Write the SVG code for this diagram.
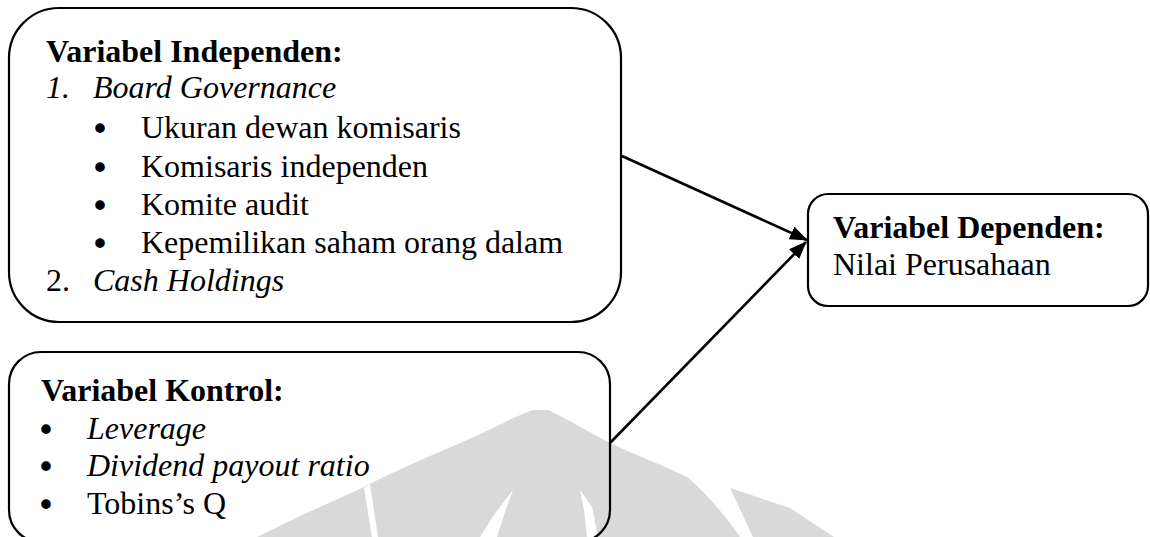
<svg xmlns="http://www.w3.org/2000/svg" width="1150" height="537" viewBox="0 0 1150 537">
<style>
.box{fill:none;stroke:#000;stroke-width:2.2}
.t{font-family:"Liberation Serif","Times New Roman",serif;font-size:32px;fill:#000}
.b{font-weight:bold}
.i{font-style:italic}
.bu{font-family:"DejaVu Sans",sans-serif;font-size:33px;fill:#000;text-anchor:middle}
.wm{fill:#d9d9d9}
.wh{fill:#fff}
.conn{stroke:#000;stroke-width:2.6;fill:none}
</style>
<defs>
<marker id="ah" markerUnits="userSpaceOnUse" markerWidth="18" markerHeight="14" refX="17" refY="7" orient="auto">
<path d="M0,0 L18,7 L0,14 Z" fill="#000"/>
</marker>
</defs>
<rect width="1150" height="537" fill="#fff"/>
<g id="watermark">
<path class="wm" d="M257,537 L300,516 L362,488 C400,468 440,452 467,440 C495,428 515,416 533,410 L548,410 C570,420 590,433 610,443 C640,457 665,466 687,477 C705,492 725,515 740,537 Z"/>
<polygon class="wm" points="730,488 790,508 834,537 753,537"/>
<polygon class="wh" points="364,488 372,537 378,537 370,484"/>
<polygon class="wh" points="513,490 505,512 497,537 480,537 496,512"/>
<polygon class="wh" points="580,490 592,507 598,537 587,537 584,510"/>
</g>
<g id="connectors">
<line class="conn" x1="622" y1="156" x2="807" y2="240" marker-end="url(#ah)"/>
<line class="conn" x1="610" y1="443" x2="806" y2="242" marker-end="url(#ah)"/>
</g>
<g id="independen">
<rect class="box" x="9" y="8" width="612" height="314" rx="50" ry="50"/>
<text class="t b" x="46" y="62">Variabel Independen:</text>
<text class="t i" x="46" y="98">1.</text>
<text class="t i" x="93" y="98">Board Governance</text>
<text class="bu" x="100" y="141">•</text>
<text class="t" x="141" y="138">Ukuran dewan komisaris</text>
<text class="bu" x="100" y="180">•</text>
<text class="t" x="141" y="177">Komisaris independen</text>
<text class="bu" x="100" y="218">•</text>
<text class="t" x="141" y="215">Komite audit</text>
<text class="bu" x="100" y="256">•</text>
<text class="t" x="141" y="253">Kepemilikan saham orang dalam</text>
<text class="t" x="46" y="291">2.</text>
<text class="t i" x="93" y="291">Cash Holdings</text>
</g>
<g id="kontrol">
<rect class="box" x="9" y="352" width="601" height="190" rx="32" ry="32"/>
<text class="t b" x="41" y="401">Variabel Kontrol:</text>
<text class="bu" x="46" y="442">•</text>
<text class="t i" x="87" y="439">Leverage</text>
<text class="bu" x="46" y="479">•</text>
<text class="t i" x="87" y="476">Dividend payout ratio</text>
<text class="bu" x="46" y="517">•</text>
<text class="t" x="87" y="514">Tobins’s Q</text>
</g>
<g id="dependen">
<rect class="box" x="808" y="194" width="340" height="112" rx="20" ry="20"/>
<text class="t b" x="833" y="238">Variabel Dependen:</text>
<text class="t" x="833" y="275">Nilai Perusahaan</text>
</g>
</svg>
